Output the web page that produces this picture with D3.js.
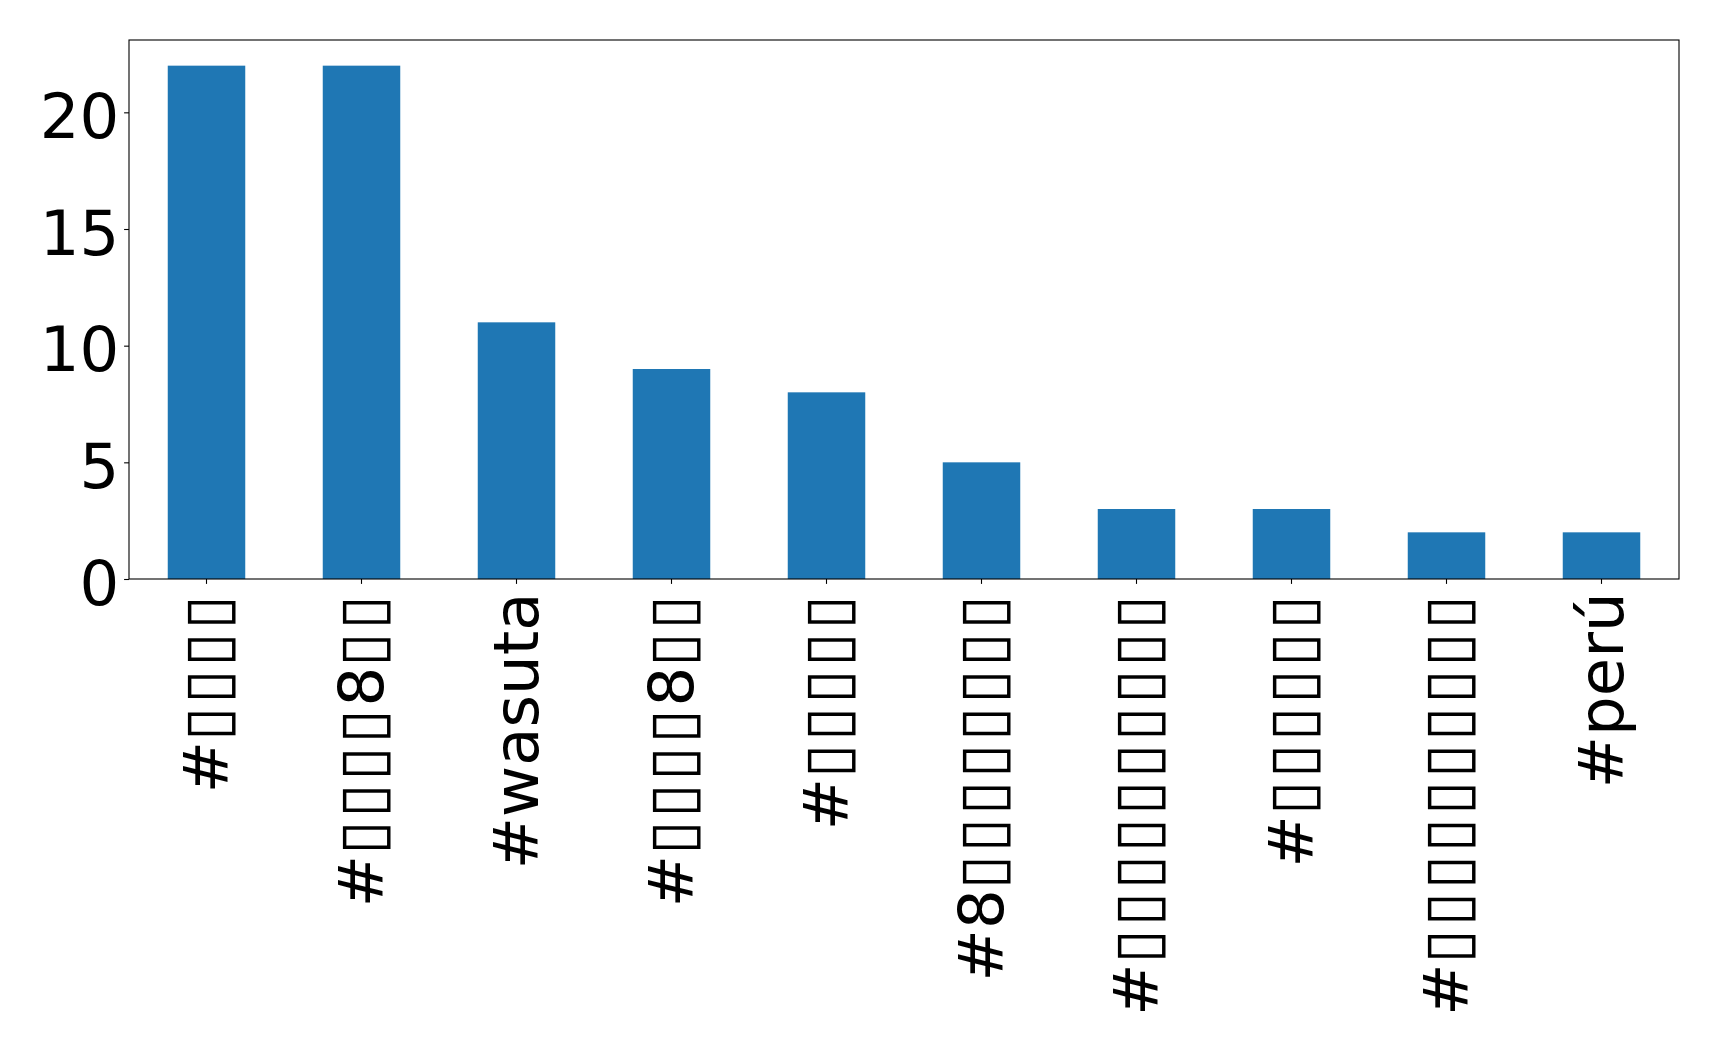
<!DOCTYPE html>
<html>
<head>
<meta charset="utf-8">
<script src="https://cdn.jsdelivr.net/npm/d3@7"></script>
<style>
  html, body { margin: 0; padding: 0; background: #ffffff; }
  svg { display: block; }
  text { font-family: "DejaVu Sans", sans-serif; fill: #000; }
</style>
</head>
<body>
<svg id="chart" width="1719" height="1056"></svg>
<script>
// Data (missing-glyph boxes kept as box characters)
const categories = [
  "#▯▯▯▯",
  "#▯▯▯▯8▯▯",
  "#wasuta",
  "#▯▯▯▯8▯▯",
  "#▯▯▯▯▯",
  "#8▯▯▯▯▯▯▯▯",
  "#▯▯▯▯▯▯▯▯▯▯",
  "#▯▯▯▯▯▯",
  "#▯▯▯▯▯▯▯▯▯▯",
  "#perú"
];
const values = [22, 22, 11, 9, 8, 5, 3, 3, 2, 2];
const yTicks = [0, 5, 10, 15, 20];

const W = 1719, H = 1056;
const margin = { left: 129, right: W - 1679, top: 40, bottom: H - 579 };
const innerW = W - margin.left - margin.right;
const innerH = H - margin.top - margin.bottom;
const fontPx = 62.5;
const BOX = "▯";

const svg = d3.select("#chart");
svg.append("rect").attr("width", W).attr("height", H).attr("fill", "#fff");
const g = svg.append("g").attr("transform", `translate(${margin.left},${margin.top})`);

const x = d3.scaleBand().domain(d3.range(categories.length)).range([0, innerW]).paddingInner(0.5).paddingOuter(0.25);
const y = d3.scaleLinear().domain([0, d3.max(values) * 1.05]).range([innerH, 0]);

g.selectAll("rect.bar").data(values).enter().append("rect")
  .attr("class", "bar")
  .attr("x", (d, i) => x(i))
  .attr("y", d => y(d))
  .attr("width", x.bandwidth())
  .attr("height", d => y(0) - y(d))
  .attr("fill", "#1f77b4");

// Y axis
const yAxis = d3.axisLeft(y).tickValues(yTicks).tickSize(4.9).tickPadding(4.9).tickFormat(d3.format("d"));
const ya = g.append("g").call(yAxis);
ya.select(".domain").remove();
ya.selectAll(".tick line").attr("stroke", "#000").attr("stroke-width", 1.1);
ya.selectAll(".tick text").attr("font-size", fontPx).attr("dy", "0.40em").style("font-family", "DejaVu Sans");

// X axis
const xAxis = d3.axisBottom(x).tickSize(4.9).tickFormat(i => categories[i]);
const xa = g.append("g").attr("transform", `translate(0,${innerH})`).call(xAxis);
xa.select(".domain").remove();
xa.selectAll(".tick line").attr("stroke", "#000").attr("stroke-width", 1.1);
xa.selectAll(".tick text")
  .attr("font-size", fontPx)
  .style("font-family", "DejaVu Sans")
  .attr("text-anchor", "end")
  .attr("y", 0)
  .attr("dy", "0.346em")
  .attr("transform", "translate(0,13.5) rotate(-90)")
  .each(function(i) {
    const label = categories[i];
    const t = d3.select(this).text(null);
    const runs = label.match(/▯+|[^▯]+/g) || [];
    runs.forEach(r => {
      const span = t.append("tspan").text(r);
      if (r[0] === BOX) span.style("letter-spacing", "2.7px");
    });
  });

// Frame (spines)
g.append("rect").attr("x", 0).attr("y", 0).attr("width", innerW).attr("height", innerH)
  .attr("fill", "none").attr("stroke", "#000").attr("stroke-width", 1.1);
</script>
</body>
</html>
